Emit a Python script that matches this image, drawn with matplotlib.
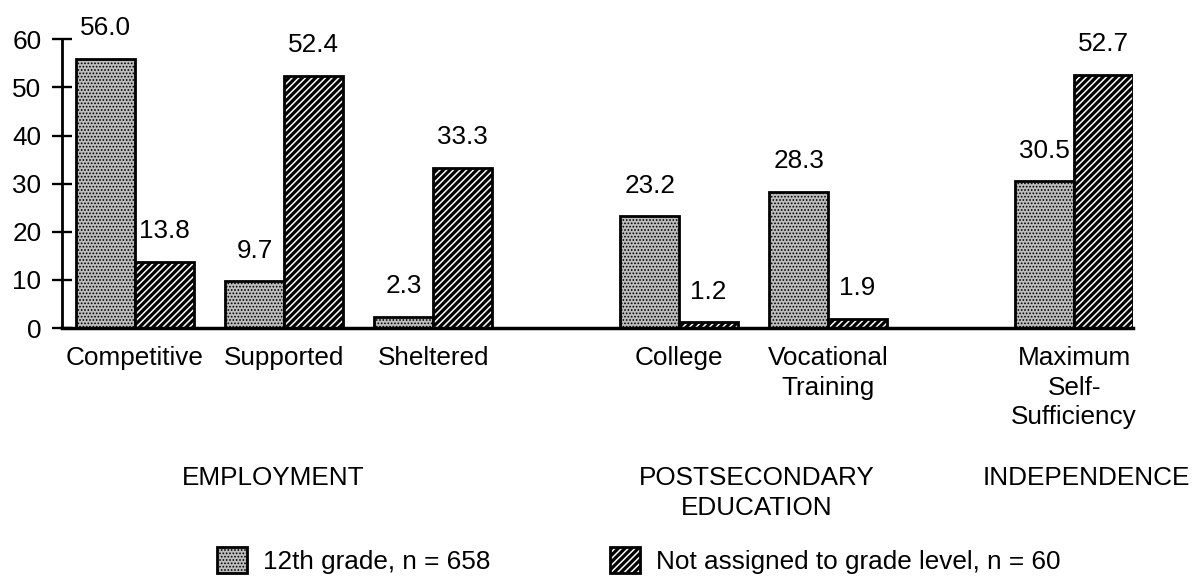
import matplotlib
matplotlib.use("Agg")
import matplotlib.pyplot as plt
import matplotlib.transforms as mtransforms
import numpy as np

# ---- data ----
categories = ["Competitive", "Supported", "Sheltered", "College",
              "Vocational\nTraining", "Maximum\nSelf-\nSufficiency"]
groups = ["EMPLOYMENT", "POSTSECONDARY\nEDUCATION", "INDEPENDENCE"]
grade12 = [56.0, 9.7, 2.3, 23.2, 28.3, 30.5]
not_assigned = [13.8, 52.4, 33.3, 1.2, 1.9, 52.7]
series_labels = ["12th grade, n = 658", "Not assigned to grade level, n = 60"]
yticks = [0, 10, 20, 30, 40, 50, 60]

# ---- layout ----
plt.rcParams['font.family'] = ['Liberation Sans', 'DejaVu Sans']
FS = 18.8
LS = 1.3
pos = np.array([0, 1, 2, 3.65, 4.65, 6.3])
group_x = [0.93, 4.17, 6.38]
w = 0.395
HATCH_LW_GRAY = 0.8
HATCH_LW_DIAG = 2.3


def set_hlw(patches, lw):
    for p in patches:
        if hasattr(p, 'set_hatch_linewidth'):
            p.set_hatch_linewidth(lw)


fig = plt.figure(figsize=(11.94, 5.81), dpi=100)
ax = fig.add_axes([62/1194, 1-328/581, (1133-62)/1194, (328-39.4)/581])

with plt.rc_context({'hatch.linewidth': HATCH_LW_GRAY}):
    b1 = ax.bar(pos - w/2, grade12, w, facecolor='#bdbdbd', edgecolor='black',
                hatch='.....', linewidth=2.0, label=series_labels[0], zorder=3)
with plt.rc_context({'hatch.linewidth': HATCH_LW_DIAG}):
    b2 = ax.bar(pos + w/2, not_assigned, w, facecolor='white', edgecolor='black',
                hatch='/////', linewidth=2.0, label=series_labels[1], zorder=3)
set_hlw(b1, HATCH_LW_GRAY)
set_hlw(b2, HATCH_LW_DIAG)

for xs, vals in ((pos - w/2, grade12), (pos + w/2, not_assigned)):
    for x, v in zip(xs, vals):
        ax.annotate(f"{v:.1f}", xy=(x, v), xytext=(0, 17), textcoords='offset points',
                    ha='center', va='baseline', fontsize=FS, clip_on=False)

ax.set_xlim(-0.49, 6.695)
ax.set_ylim(0, 60)
ax.set_yticks(yticks)
ax.set_yticklabels([str(t) for t in yticks], fontsize=FS)
ax.set_xticks(pos)
ax.set_xticklabels(categories, fontsize=FS, linespacing=LS)
ax.tick_params(axis='x', length=0, pad=13)
ax.tick_params(axis='y', direction='inout', length=13.7, width=1.7, pad=8)

for s in ('top', 'right'):
    ax.spines[s].set_visible(False)
ax.spines['left'].set_linewidth(2.0)
ax.spines['bottom'].set_linewidth(2.5)
ax.spines['bottom'].set_zorder(4)

tr = mtransforms.blended_transform_factory(ax.transData, fig.transFigure)
for gx, g in zip(group_x, groups):
    ax.text(gx, 1-466/581, g, transform=tr,
            ha='center', va='top', fontsize=FS, linespacing=LS)

with plt.rc_context({'hatch.linewidth': HATCH_LW_DIAG}):
    leg = fig.legend(handles=[b1, b2], labels=series_labels, ncol=2, frameon=False,
                     loc='upper left', bbox_to_anchor=(217/1194, 1-547/581),
                     handlelength=1.15, handleheight=1.15, handletextpad=0.6,
                     columnspacing=4.6, borderpad=0, borderaxespad=0, fontsize=FS)
handles = getattr(leg, 'legend_handles', None) or getattr(leg, 'legendHandles', [])
set_hlw(handles[:1], HATCH_LW_GRAY)
set_hlw(handles[1:], HATCH_LW_DIAG)

fig.savefig("out.png", dpi=100, facecolor='white')
